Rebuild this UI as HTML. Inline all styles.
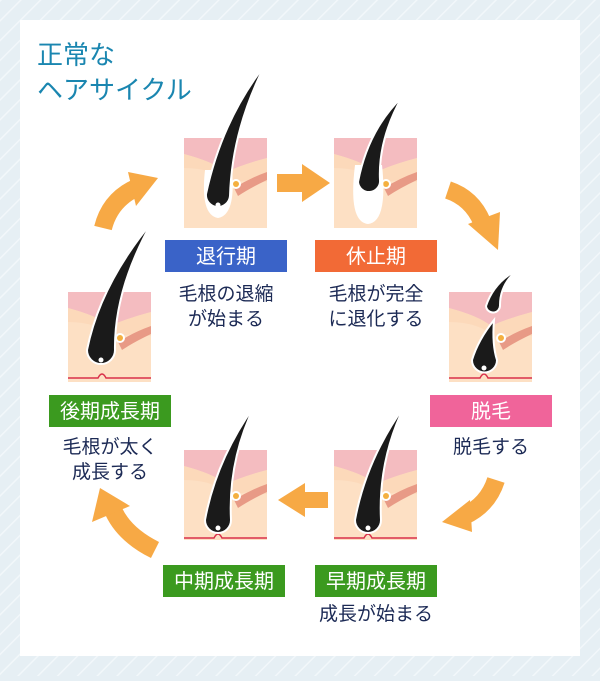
<!DOCTYPE html>
<html><head><meta charset="utf-8"><style>
html,body{margin:0;padding:0;}
body{width:600px;height:676px;overflow:hidden;background:#e6eff4;font-family:"Liberation Sans","Noto Sans CJK JP",sans-serif;}
</style></head><body>
<svg width="600" height="676" viewBox="0 0 600 676" xmlns="http://www.w3.org/2000/svg" font-family="Liberation Sans, Noto Sans CJK JP, sans-serif">
<defs>
<pattern id="st" width="14" height="14" patternUnits="userSpaceOnUse" patternTransform="rotate(45)">
<rect width="14" height="14" fill="#e6eff4"/><rect width="1.5" height="14" fill="#f2f7fa"/>
</pattern>
<g id="skin">
<rect x="0" y="0" width="83" height="90" fill="#fde0c4"/>
<path d="M0,0 H83 V20 Q60,26 42,34 Q30,24 0,16 Z" fill="#f4bcc0"/>
<path d="M0,16 Q30,24 42,34 Q60,26 83,20 V44 Q60,40 48,46 Q30,30 0,30Z" fill="#fbd3b4" opacity=".6"/>
<path d="M50,50 Q66,40 83,34 V42 Q66,50 54,58Z" fill="#e89a86"/>
<circle cx="52" cy="46" r="5" fill="#fff"/><circle cx="52" cy="46" r="3" fill="#f4b040"/>
</g>
</defs>
<rect width="600" height="676" fill="url(#st)"/>
<rect x="20" y="20" width="560" height="636" fill="#fff"/>
<text x="37" y="64" font-size="26" fill="#1a86b0">正常な</text>
<text x="37" y="99" font-size="26" fill="#1a86b0">ヘアサイクル</text>

<use href="#skin" x="184" y="138"/>
<use href="#skin" x="334" y="138"/>
<use href="#skin" x="449" y="292"/>
<use href="#skin" x="334" y="450"/>
<use href="#skin" x="184" y="450"/>
<use href="#skin" x="68" y="292"/>

<g stroke="#d9304a" stroke-width="1.5" fill="none">
<path d="M449,378 H480 Q484,370 488,378 H532"/>
<path d="M334,538 H364 Q368,530 372,538 H417"/>
<path d="M184,538 H214 Q218,530 222,538 H267"/>
<path d="M68,378 H98 Q102,370 106,378 H151"/>
</g>
<g fill="#fff">
<path d="M205,170 Q200,215 218,218 Q236,215 232,170Z"/>
<path d="M355,165 Q348,222 368,224 Q388,222 382,165Z"/>
</g>
<g fill="#1a1a1a" stroke="#fff" stroke-width="2">
<path d="M265,65 Q232,130 230,196 A12,12 0 1 1 206,194 Q222,120 265,65Z"/>
<path d="M402,97 Q378,140 380,180 A11,11 0 1 1 358,182 Q368,130 402,97Z"/>
<path d="M517,270 Q500,285 500,305 A7,7 0 1 1 486,306 Q494,282 517,270Z"/>
<path d="M494,320 Q492,345 497,360 A12,12 0 1 1 472,360 Q478,340 494,320Z"/>
<path d="M405,405 Q378,460 381,520 A13,13 0 1 1 355,520 Q366,460 405,405Z"/>
<path d="M255,405 Q228,460 231,520 A13,13 0 1 1 205,520 Q216,460 255,405Z"/>
<path d="M152,222 Q114,290 115,350 A14,14 0 1 1 87,350 Q100,285 152,222Z"/>
</g>
<g fill="#fff">
<circle cx="218" cy="205" r="2.5"/><circle cx="368" cy="528" r="2.5"/><circle cx="218" cy="528" r="2.5"/><circle cx="101" cy="360" r="2.5"/><circle cx="484" cy="368" r="2.5"/>
</g>

<g fill="#f7a945">
<path d="M277,174 H302 V164 L330,183 L302,202 V192 H277Z"/>
<path d="M328,492 H305 V483 L278,500 L305,517 V508 H328Z"/>
</g>
<g fill="none" stroke="#f7a945" stroke-width="18">
<path d="M448,190 Q472,198 482,222"/>
<path d="M496,480 Q488,505 464,516"/>
<path d="M155,550 Q125,535 114,512"/>
<path d="M103,228 Q110,200 136,188"/>
</g>
<g fill="#f7a945">
<polygon points="468,224 500,212 498,250"/>
<polygon points="470,500 472,532 442,522"/>
<polygon points="100,488 92,522 130,506"/>
<polygon points="128,172 158,178 136,206"/>
</g>

<rect x="165" y="240" width="122" height="32" fill="#3a63c8"/>
<text x="226" y="263" font-size="20" fill="#fff" text-anchor="middle">退行期</text>
<rect x="315" y="240" width="122" height="32" fill="#f26a36"/>
<text x="376" y="263" font-size="20" fill="#fff" text-anchor="middle">休止期</text>
<rect x="430" y="395" width="122" height="32" fill="#f0649a"/>
<text x="491" y="418" font-size="20" fill="#fff" text-anchor="middle">脱毛</text>
<rect x="315" y="565" width="122" height="32" fill="#3b9a1f"/>
<text x="376" y="588" font-size="20" fill="#fff" text-anchor="middle">早期成長期</text>
<rect x="163" y="565" width="122" height="32" fill="#3b9a1f"/>
<text x="224" y="588" font-size="20" fill="#fff" text-anchor="middle">中期成長期</text>
<rect x="49" y="395" width="122" height="32" fill="#3b9a1f"/>
<text x="110" y="418" font-size="20" fill="#fff" text-anchor="middle">後期成長期</text>

<g font-size="19" fill="#1c2a55" text-anchor="middle">
<text x="226" y="300">毛根の退縮</text>
<text x="226" y="325">が始まる</text>
<text x="376" y="300">毛根が完全</text>
<text x="376" y="325">に退化する</text>
<text x="491" y="453">脱毛する</text>
<text x="376" y="620">成長が始まる</text>
<text x="110" y="453">毛根が太く</text>
<text x="110" y="478">成長する</text>
</g>
</svg>
</body></html>
